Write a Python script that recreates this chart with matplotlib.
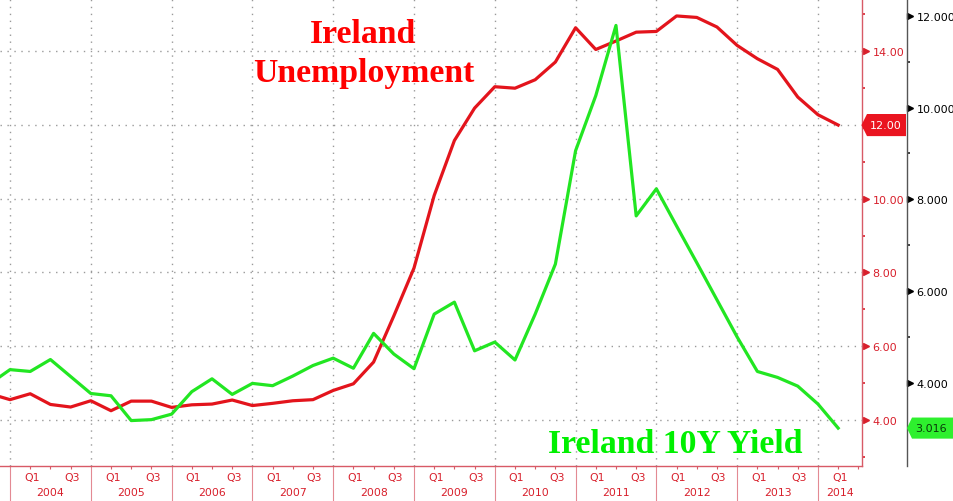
import matplotlib.pyplot as plt
import matplotlib.transforms as mtransforms
from matplotlib.patches import Polygon
from matplotlib.ticker import FixedLocator, FormatStrFormatter, FuncFormatter
import numpy as np

# --- Data (quarterly) ---
# quarter index 0 = start of 2004, -1 = last quarter of 2003
quarter_index = np.arange(-1, 42)
dates = 2004 + 0.25 * quarter_index

unemployment = [4.71, 4.55, 4.71, 4.42, 4.35, 4.52, 4.25, 4.51, 4.51, 4.34,
                4.41, 4.43, 4.54, 4.39, 4.45, 4.52, 4.55, 4.80, 4.98, 5.57,
                6.82, 8.12, 10.09, 11.58, 12.46, 13.04, 13.00, 13.23, 13.71, 14.64,
                14.05, 14.28, 14.52, 14.54, 14.96, 14.92, 14.66, 14.16, 13.80, 13.51,
                12.76, 12.28, 12.00]

yield_10y = [3.98, 4.29, 4.25, 4.51, 4.14, 3.77, 3.72, 3.18, 3.20, 3.32,
             3.81, 4.09, 3.75, 3.99, 3.94, 4.15, 4.38, 4.54, 4.32, 5.08,
             4.63, 4.31, 5.50, 5.76, 4.70, 4.89, 4.50, 5.50, 6.59, 9.06,
             10.26, 11.79, 7.64, 8.23, 7.42, 6.62, 5.81, 5.00, 4.25, 4.12,
             3.93, 3.54, 3.016]

years = list(range(2004, 2015))
unemp_ticks = [4, 6, 8, 10, 12, 14]
yield_ticks = [4, 6, 8, 10, 12]

# --- Style ---
red_line = '#e3141c'
green_line = '#22e622'
axis_red = '#d8202c'
spine_red = '#d85a66'
grid_col = '#9a9a9a'
plt.rcParams['font.family'] = 'DejaVu Sans'

W, H = 954, 502
fig = plt.figure(figsize=(W / 100, H / 100), dpi=100)
ax = fig.add_axes([0, 35 / H, 862 / W, 467 / H])
ax2 = ax.twinx()

ax.plot(dates, unemployment, color=red_line, lw=2.3, solid_joinstyle='round')
ax2.plot(dates, yield_10y, color=green_line, lw=2.3, solid_joinstyle='round')

ax.set_xlim(2003.876, 2014.545)
ax.set_ylim(2.75, 15.42)
ax2.set_ylim(2.19, 12.366)

last_u = unemployment[-1]
last_y = yield_10y[-1]

# spines
for s in ['left', 'top']:
    ax.spines[s].set_visible(False)
ax.spines['right'].set_color(spine_red)
ax.spines['right'].set_linewidth(1.0)
ax.spines['bottom'].set_color(spine_red)
ax.spines['bottom'].set_linewidth(1.0)
for s in ['left', 'top', 'bottom']:
    ax2.spines[s].set_visible(False)
ax2.spines['right'].set_position(('axes', 907 / 862))
ax2.spines['right'].set_color('#555555')
ax2.spines['right'].set_linewidth(1.0)

# red (unemployment) axis on the right; the last-value tag covers its own tick label
ax.yaxis.tick_right()
ax.yaxis.set_major_locator(FixedLocator(unemp_ticks))
ax.yaxis.set_minor_locator(FixedLocator([3, 5, 7, 9, 11, 13, 15]))
ax.yaxis.set_major_formatter(FuncFormatter(lambda v, p: '' if abs(v - last_u) < 0.2 else f'{v:.2f}'))
ax.tick_params(axis='y', which='major', length=0, pad=7.5, labelcolor=axis_red, labelsize=8)
ax.tick_params(axis='y', which='minor', length=2.5, width=1.2, color=axis_red, direction='out')

# black (yield) axis further right
ax2.yaxis.set_major_locator(FixedLocator(yield_ticks))
ax2.yaxis.set_minor_locator(FixedLocator([3, 5, 7, 9, 11]))
ax2.yaxis.set_major_formatter(FormatStrFormatter('%.3f'))
ax2.tick_params(axis='y', which='major', length=0, pad=7, labelcolor='black', labelsize=8)
ax2.tick_params(axis='y', which='minor', length=2.5, width=1.2, color='#222222', direction='out')

# x axis: long year separators, short quarter ticks
ax.xaxis.set_major_locator(FixedLocator(years))
ax.xaxis.set_minor_locator(FixedLocator([y + q for y in range(2003, 2015) for q in (0.25, 0.5, 0.75)]))
ax.tick_params(axis='x', which='major', length=25, width=0.8, color='#e38a93', labelbottom=False)
ax.tick_params(axis='x', which='minor', length=2.5, width=0.8, color=spine_red)

# grid
ax.grid(True, which='major', color=grid_col, linestyle=(0, (1, 4)), linewidth=1.0)
ax.set_axisbelow(True)

# quarter / year labels
tr = mtransforms.blended_transform_factory(ax.transData, ax.transAxes)
x0, x1 = ax.get_xlim()
for y in years:
    for q, lab in [(0.25, 'Q1'), (0.75, 'Q3')]:
        if y + q < x1:
            ax.text(y + q + 0.02, -11.5 / 467, lab, transform=tr, ha='center', va='center',
                    color=axis_red, fontsize=7.8)
    cx = y + 0.5 if y + 1 < x1 else (y + x1) / 2
    ax.text(cx, -26 / 467, str(y), transform=tr, ha='center', va='center',
            color=axis_red, fontsize=7.8)
ax.text(2004 - 0.3, -26 / 467, '2003', transform=tr, ha='center', va='center',
        color=axis_red, fontsize=7.8)

# triangle tick markers
tr_r = mtransforms.blended_transform_factory(ax.transAxes, ax.transData)
ax.plot([866 / 862] * len(unemp_ticks), unemp_ticks, linestyle='none', marker='>',
        markersize=4, color=axis_red, transform=tr_r, clip_on=False)
tr_b = mtransforms.blended_transform_factory(ax2.transAxes, ax2.transData)
ax2.plot([910.5 / 862] * len(yield_ticks), yield_ticks, linestyle='none', marker='>',
         markersize=4, color='black', transform=tr_b, clip_on=False)

# last-value tags
hu = 0.30
ax.add_patch(Polygon([(861.5 / 862, last_u), (867 / 862, last_u + hu), (906 / 862, last_u + hu),
                      (906 / 862, last_u - hu), (867 / 862, last_u - hu)],
                     closed=True, facecolor='#ea1520', edgecolor='none',
                     transform=tr_r, clip_on=False, zorder=5))
ax.text(886 / 862, last_u, f'{last_u:.2f}', transform=tr_r, ha='center', va='center',
        color='white', fontsize=8, zorder=6)

hy = 0.23
ax2.add_patch(Polygon([(907 / 862, last_y), (912 / 862, last_y + hy), (960 / 862, last_y + hy),
                       (960 / 862, last_y - hy), (912 / 862, last_y - hy)],
                      closed=True, facecolor='#2ef02e', edgecolor='none',
                      transform=tr_b, clip_on=False, zorder=5))
ax2.text(931 / 862, last_y, f'{last_y:.3f}', transform=tr_b, ha='center', va='center',
         color='#0a3a0a', fontsize=8, zorder=6)

# series titles
title_font = dict(family='Liberation Serif', weight='bold', fontsize=24.3, ha='center', va='baseline')
fig.text(363 / W, 1 - 43 / H, 'Ireland', color='#ff0000', **title_font)
fig.text(364 / W, 1 - 82 / H, 'Unemployment', color='#ff0000', **title_font)
fig.text(675 / W, 1 - 453 / H, 'Ireland 10Y Yield', color='#00f000', **title_font)

fig.savefig('out.png', dpi=100)
